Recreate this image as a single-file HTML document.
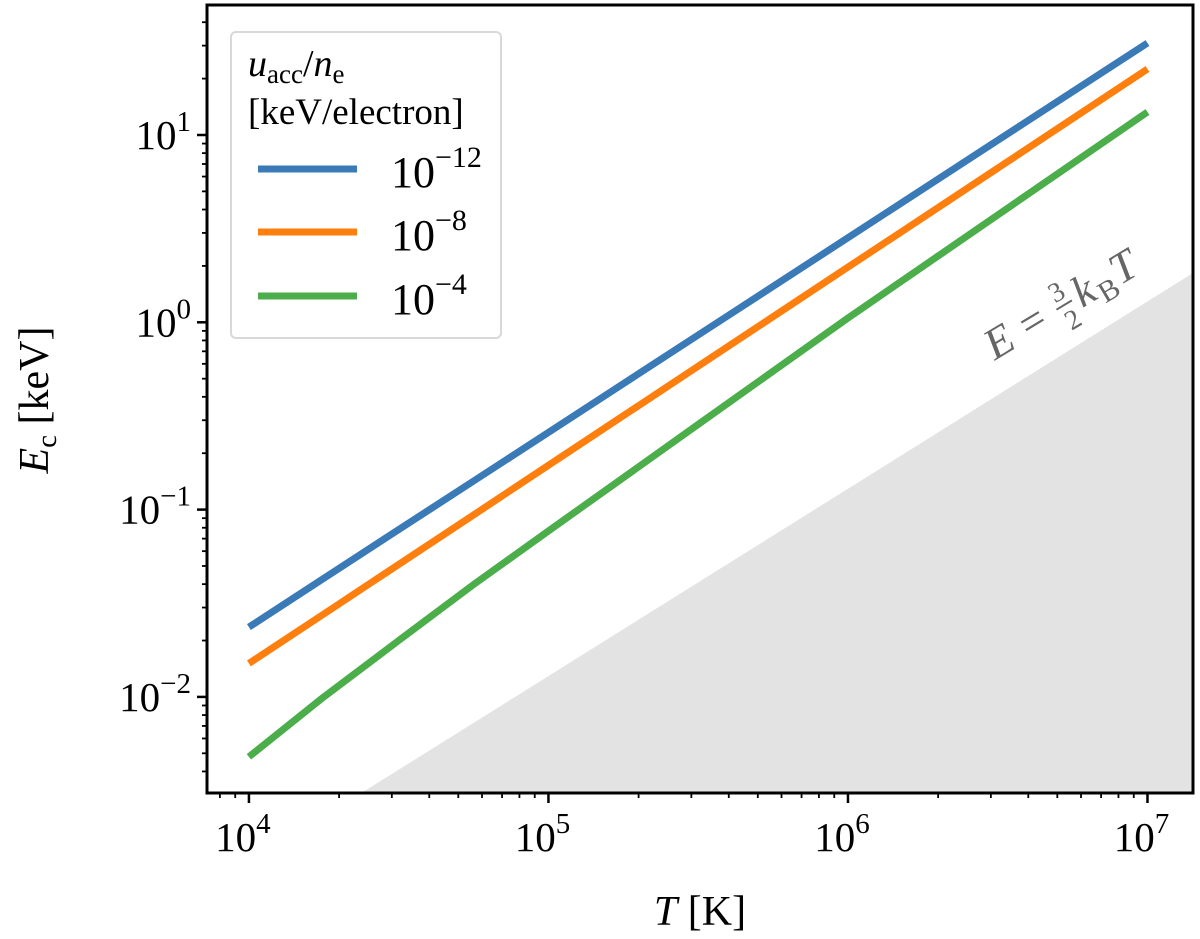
<!DOCTYPE html>
<html><head><meta charset="utf-8"><style>
html,body{margin:0;padding:0;background:#fff;}
svg{display:block;font-family:"Liberation Serif","DejaVu Serif",serif;}
</style></head><body>
<svg id="chart" width="1200" height="939" viewBox="0 0 1200 939" xmlns="http://www.w3.org/2000/svg">
<g id="plot"></g>
</svg>
<script>
const categoriesT = [1e4, 1.778e4, 3.162e4, 5.623e4, 1e5, 3.162e5, 1e6, 3.162e6, 1e7];
const seriesNames = ["10^-12","10^-8","10^-4"];
const blueValues = [0.0236, 0.0430, 0.0782, 0.1422, 0.2584, 0.855, 2.83, 9.37, 31.0];
const orangeValues = [0.0151, 0.0277, 0.0510, 0.0937, 0.1725, 0.583, 1.97, 6.65, 22.5];
const greenValues = [0.00479, 0.0100, 0.0200, 0.0398, 0.0769, 0.285, 1.054, 3.74, 13.27];
const xTickLabels = ["4","5","6","7"];
const yTickLabels = ["-2","-1","0","1"];
const shadeCoef = 1.5*8.617e-8;

const L=207,R=1193,T=5,B=793;
const xMin=3.86,xMax=7.152,yMin=-2.513,yMax=1.694;
const xs=v=>L+(Math.log10(v)-xMin)/(xMax-xMin)*(R-L);
const ys=v=>B-(Math.log10(v)-yMin)/(yMax-yMin)*(B-T);
const NS="http://www.w3.org/2000/svg";
const g=document.getElementById('plot');
function mk(tag,attrs,parent){const e=document.createElementNS(NS,tag);for(const k in attrs)e.setAttribute(k,attrs[k]);(parent||g).appendChild(e);return e;}

const tR=Math.pow(10,xMax);
const tB=Math.pow(10,yMin)/shadeCoef;
let shade=mk('polygon',{points:`${xs(tB)},${B} ${R},${ys(shadeCoef*tR)} ${R},${B}`,fill:'#e3e3e3'});



let ann=mk('g',{transform:'translate(1082,292) rotate(-31)',fill:'#666'});


mk('text',{x:-110,y:14,'font-size':44,'font-style':'italic'},ann).textContent='E';
mk('text',{x:-70,y:14,'font-size':44},ann).textContent='=';
mk('text',{x:-22,y:-4,'font-size':28,'text-anchor':'middle'},ann).textContent='3';
mk('line',{x1:-31,x2:-13,y1:2,y2:2,stroke:'#666','stroke-width':2},ann);
mk('text',{x:-22,y:28,'font-size':28,'text-anchor':'middle'},ann).textContent='2';
mk('text',{x:-8,y:14,'font-size':44,'font-style':'italic'},ann).textContent='k';
mk('text',{x:14,y:22,'font-size':30},ann).textContent='B';
mk('text',{x:36,y:14,'font-size':44,'font-style':'italic'},ann).textContent='T';

const colors=['#3a7ab7','#ff7f0e','#4bae4b'];
[blueValues,orangeValues,greenValues].forEach((vals,i)=>{
  const d=vals.map((v,j)=>(j?'L':'M')+xs(categoriesT[j]).toFixed(1)+','+ys(v).toFixed(1)).join(' ');
  const p=mk('path',{d:d,fill:'none',stroke:colors[i],'stroke-width':7,'stroke-linejoin':'round'});
  
  
});

for(let d=3;d<=7;d++){
  for(let m=1;m<10;m++){
    const v=m*Math.pow(10,d); const lv=Math.log10(v); if(lv<xMin||lv>xMax) continue;
    const x=xs(v); const len=m===1?10:5;
    const t=mk('line',{x1:x,x2:x,y1:B,y2:B+len,stroke:'#000','stroke-width':m===1?2.5:1.8});
    
    
  }
}
for(let d=-3;d<=1;d++){
  for(let m=1;m<10;m++){
    const v=m*Math.pow(10,d); const lv=Math.log10(v); if(lv<yMin||lv>yMax) continue;
    const y=ys(v); const len=m===1?10:5;
    const t=mk('line',{x1:L-len,x2:L,y1:y,y2:y,stroke:'#000','stroke-width':m===1?2.5:1.8});
    
    
  }
}
xTickLabels.forEach(e=>{
  const t=mk('text',{x:xs(Math.pow(10,+e))-6,y:B+58,'font-size':41,'text-anchor':'middle'});
  
  
  t.innerHTML='10<tspan font-size="29" dy="-18">'+e+'</tspan>';
});
yTickLabels.forEach(e=>{
  const t=mk('text',{x:L-16,y:ys(Math.pow(10,+e))+14,'font-size':41,'text-anchor':'end'});
  
  
  t.innerHTML='10<tspan font-size="29" dy="-18">'+(+e<0?'\u2212'+(-e):e)+'</tspan>';
});

let frame=mk('rect',{x:L,y:T,width:R-L,height:B-T,fill:'none',stroke:'#000','stroke-width':3});



let xl=mk('text',{x:700,y:925,'font-size':42,'text-anchor':'middle'});


xl.innerHTML='<tspan font-style="italic">T</tspan> [K]';
let yl=mk('text',{x:0,y:0,'font-size':42,'text-anchor':'middle',transform:'translate(48,400) rotate(-90)'});


yl.innerHTML='<tspan font-style="italic">E</tspan><tspan font-size="29" dy="8">c</tspan><tspan dy="-8"> [keV]</tspan>';

let lg=mk('rect',{x:231,y:32,width:270,height:306,rx:5,fill:'#fff',stroke:'#d8d8d8','stroke-width':2});


let lt1=mk('text',{x:248,y:76,'font-size':38});


lt1.innerHTML='<tspan font-style="italic">u</tspan><tspan font-size="27" dy="7">acc</tspan><tspan dy="-7">/</tspan><tspan font-style="italic">n</tspan><tspan font-size="27" dy="7">e</tspan>';
let lt2=mk('text',{x:248,y:124,'font-size':37});


lt2.textContent='[keV/electron]';
const legExp=['\u221212','\u22128','\u22124'];
[169,232,296].forEach((y,i)=>{
  const l=mk('line',{x1:258,x2:357,y1:y,y2:y,stroke:colors[i],'stroke-width':7});
  
  
  const t=mk('text',{x:391,y:y+18,'font-size':44});
  
  
  t.innerHTML='10<tspan font-size="30" dy="-20">'+legExp[i]+'</tspan>';
});
</script>
</body></html>
